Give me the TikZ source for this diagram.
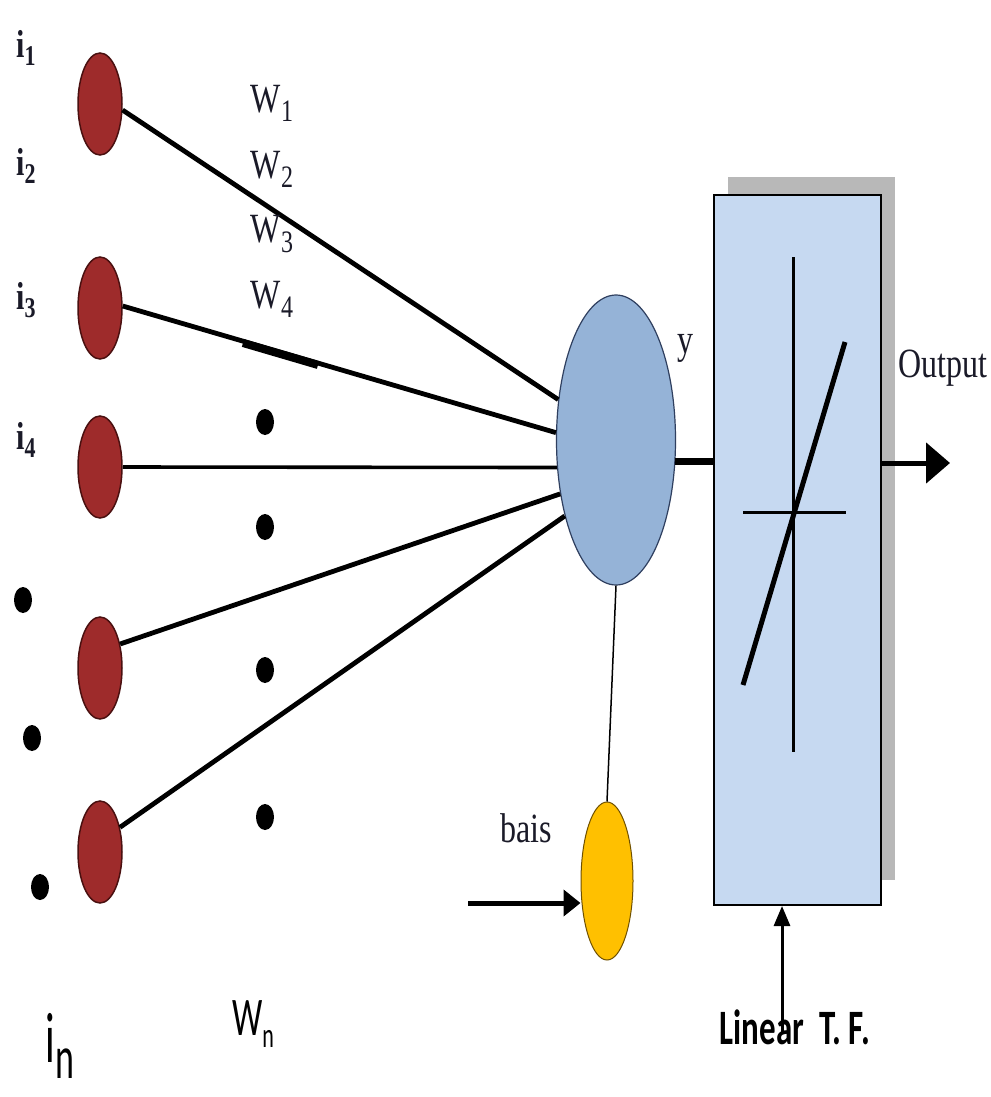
\documentclass[tikz,border=0pt]{standalone}
\usepackage{fontspec}
\setmainfont{Liberation Serif}
\newfontfamily\calib{Carlito}
\usetikzlibrary{shapes.geometric,arrows.meta}
\definecolor{redc}{HTML}{9E2B2B}
\definecolor{redb}{HTML}{4A1010}
\definecolor{bluec}{HTML}{95B3D7}
\definecolor{blueb}{HTML}{2F3F5F}
\definecolor{boxc}{HTML}{C6D9F1}
\definecolor{shadc}{HTML}{B8B8B8}
\definecolor{yelc}{HTML}{FFC000}
\definecolor{yelb}{HTML}{6F5000}
\definecolor{txtc}{HTML}{1A1A28}
\newcommand{\lsub}[2][24]{\raisebox{-0.22em}{\fontsize{#1}{#1}\selectfont #2}}
\newcommand{\vst}[2][1.3]{\scalebox{1}[#1]{#2}}
\begin{document}
\begin{tikzpicture}[x=1pt,y=-1pt,
  inp/.style={ellipse, draw=redb, fill=redc, line width=1.5pt, minimum width=44pt, minimum height=102pt, inner sep=0pt},
  blackdot/.style={ellipse, fill=black, minimum width=18pt, minimum height=26pt, inner sep=0pt},
  wire/.style={line width=4.8pt, black},
  seriflab/.style={font=\fontsize{32}{32}\selectfont, text=txtc, inner sep=0pt},
  ilab/.style={font=\fontsize{30}{30}\selectfont\bfseries, text=txtc, inner sep=0pt},
  sanslab/.style={font=\calib, text=black, inner sep=0pt}]
\path[use as bounding box] (0,0) rectangle (990,1097);
\fill[white] (0,0) rectangle (990,1097);

% input neurons
\node[inp] (r1) at (100,104) {};
\node[inp] (r2) at (100,308) {};
\node[inp] (r3) at (100,467) {};
\node[inp] (r4) at (100,668) {};
\node[inp] (r5) at (100,852) {};

% summation neuron
\node[ellipse, draw=blueb, fill=bluec, line width=1.2pt, minimum width=119pt, minimum height=290pt, inner sep=0pt] (sum) at (616,440) {};

% bias neuron
\node[ellipse, draw=yelb, fill=yelc, line width=1pt, minimum width=52pt, minimum height=158pt, inner sep=0pt] (bias) at (607,881) {};

% transfer function box with shadow
\fill[shadc] (728,177) rectangle (895,880);
\node[rectangle, draw=black, fill=boxc, line width=2pt, minimum width=167pt, minimum height=710pt, inner sep=0pt] (tf) at (797.5,550) {};
\draw[line width=3pt] (793,257) -- (793,752);
\draw[line width=3pt] (743,512) -- (846,512);
\draw[line width=5pt] (743,685) -- (845,342);

% weighted connections
\draw[wire] (r1.-15) -- (sum.145);
\draw[wire] (r2.5) -- (sum.173);
\draw[line width=8pt] (243,343) -- (318,365);
\draw[line width=3.6pt] (r3.east) -- (sum.205);
\draw[wire] (r4.50) -- (sum.224);
\draw[wire] (r5.51) -- (sum.236);

% sum to box
\draw[line width=7pt] (sum.-20) -- (sum.-20 -| tf.west);
% sum to bias
\draw[line width=1.5pt] (sum.south) -- (bias.north);

% output arrow
\coordinate (outend) at (950,463);
\draw[line width=5pt, -{Triangle[length=24pt,width=40pt]}] (tf.east |- outend) -- (outend);

% bias input arrow
\coordinate (bstart) at (468,903);
\draw[line width=5pt, -{Triangle[length=17pt,width=26pt]}] (bstart) -- (bstart -| bias.west);

% transfer function arrow
\coordinate (lstart) at (782,1032);
\draw[line width=3pt, -{Triangle[length=20pt,width=16pt]}] (lstart) -- (lstart |- tf.south);

% dots
\node[blackdot] (d1) at (265,422) {};
\node[blackdot] (d2) at (265,527) {};
\node[blackdot] (d3) at (265,670) {};
\node[blackdot] (d4) at (265,817) {};
\node[blackdot] (d5) at (23,600) {};
\node[blackdot] (d6) at (32,738) {};
\node[blackdot] (d7) at (40,887) {};

% labels
\node[ilab] (i1) at (26,48) {\vst{i\lsub[22]{1}}};
\node[ilab] (i2) at (26,166) {\vst{i\lsub[22]{2}}};
\node[ilab] (i3) at (26,300) {\vst{i\lsub[22]{3}}};
\node[ilab] (i4) at (26,440) {\vst{i\lsub[22]{4}}};
\node[seriflab] (w1) at (272,103) {\vst{W\lsub{1}}};
\node[seriflab] (w2) at (272,169) {\vst{W\lsub{2}}};
\node[seriflab] (w3) at (272,234) {\vst{W\lsub{3}}};
\node[seriflab] (w4) at (272,299) {\vst{W\lsub{4}}};
\node[seriflab] (ylab) at (685,348) {\vst{y}};
\node[seriflab] (outlab) at (943,368) {\vst{Output}};
\node[seriflab] (bailab) at (526,828) {\vst{bais}};
\node[sanslab, font=\calib\fontsize{33}{33}\selectfont\bfseries] (lin) at (795,1027) {\vst[1.5]{Linear~~T.~F.}};
\node[sanslab, font=\calib\fontsize{34}{34}\selectfont] (wn) at (253,1024) {\vst[1.6]{W\lsub[22]{n}}};
\node[sanslab, font=\calib\fontsize{42}{42}\selectfont] (in) at (60,1046) {\vst[1.7]{i\lsub[36]{n}}};
\end{tikzpicture}
\end{document}
